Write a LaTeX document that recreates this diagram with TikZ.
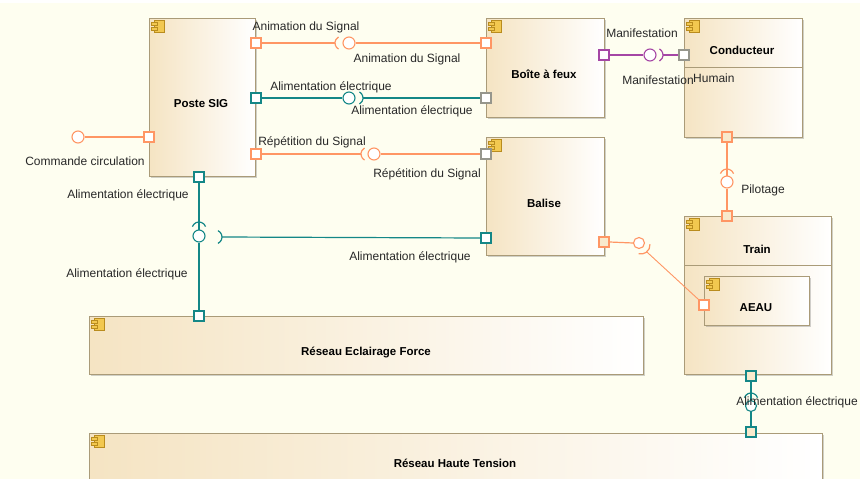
\documentclass[tikz,border=0pt]{standalone}
\usepackage{fontspec}
\setmainfont{Liberation Sans}
\usetikzlibrary{shadows}
\definecolor{bg}{RGB}{254,254,240}
\definecolor{org}{RGB}{255,150,100}
\definecolor{tealc}{RGB}{20,135,135}
\definecolor{purp}{RGB}{165,70,165}
\definecolor{boxb}{RGB}{170,155,120}
\definecolor{boxl}{RGB}{245,228,195}
\definecolor{pcream}{RGB}{248,234,205}
\definecolor{pgray}{RGB}{150,150,140}
\definecolor{icf}{RGB}{242,200,80}
\definecolor{ics}{RGB}{185,140,30}
\definecolor{lbl}{RGB}{40,40,40}
\tikzset{
  comp/.style={draw=boxb, line width=1.2pt, left color=boxl, right color=white,
    drop shadow={shadow xshift=1.2pt, shadow yshift=-1.2pt, opacity=0.3, fill=black!60},
    inner sep=0pt, anchor=north west},
  ttl/.style={font=\bfseries\fontsize{11.5}{13}\selectfont, text=black, inner sep=0pt},
  lab/.style={font=\fontsize{12}{14}\selectfont, text=lbl, inner sep=0pt},
  port/.style={draw=#1, fill=white, minimum size=10pt, inner sep=0pt, line width=1.2pt},
  cport/.style={port=#1, fill=pcream},
  ball/.style={draw=#1, fill=white, circle, minimum size=12pt, inner sep=0pt, line width=1.1pt},
  conn/.style={draw=#1, line width=1.2pt},
  cicon/.pic={
    \draw[fill=icf, draw=ics, line width=0.6pt] (5,2) rectangle (15,14);
    \draw[fill=icf, draw=ics, line width=0.6pt] (2,4) rectangle (8,7);
    \draw[fill=icf, draw=ics, line width=0.6pt] (2,9) rectangle (8,12);
  }
}
\begin{document}
\begin{tikzpicture}[x=1pt,y=-1pt]
\useasboundingbox (0,0) rectangle (860,479);
\clip (0,0) rectangle (860,479);
\fill[bg] (0,0) rectangle (860,479);
\fill[white] (0,0) rectangle (860,3);

% components
\node[comp, minimum width=106pt, minimum height=158pt] (poste) at (149,18) {};
\node[comp, minimum width=118pt, minimum height=99pt] (boite) at (486,18) {};
\node[comp, minimum width=118pt, minimum height=118pt] (balise) at (486,137) {};
\node[comp, minimum width=118pt, minimum height=119pt] (cond) at (684,18) {};
\node[comp, minimum width=147pt, minimum height=158pt] (train) at (684,216) {};
\node[comp, minimum width=105pt, minimum height=49pt] (aeau) at (704,276) {};
\node[comp, minimum width=554pt, minimum height=58pt] (ref) at (89,316) {};
\node[comp, minimum width=733pt, minimum height=70pt] (rht) at (89,433) {};

\draw[boxb, line width=1pt] (cond.west |- 0,67) -- (cond.east |- 0,67);
\draw[boxb, line width=1pt] (train.west |- 0,265) -- (train.east |- 0,265);

\foreach \n in {poste,boite,balise,cond,train,aeau,ref,rht} {
  \pic at (\n.north west) {cicon};
}

% titles
\node[ttl] (tposte) at (201,104) {Poste SIG};
\node[ttl] (tboite) at (544,74) {Boîte à feux};
\node[ttl] (tbalise) at (544,203) {Balise};
\node[ttl] (tcond) at (742,50) {Conducteur};
\node[ttl] (ttrain) at (757,249) {Train};
\node[ttl] (taeau) at (756,308) {AEAU};
\node[ttl] (tref) at (366,352) {Réseau Eclairage Force};
\node[ttl] (trht) at (455,463) {Réseau Haute Tension};
\node[lab, anchor=west] (humain) at (693,78) {Humain};

% socket centres
\coordinate (sA) at (342,43);
\coordinate (sB) at (356,98);
\coordinate (sC) at (368,154);
\coordinate (sM) at (656,55);
\coordinate (sP) at (727,176);
\coordinate (sV) at (199,229);
\coordinate (sW) at (215,237);
\coordinate (sT) at (751,400);
\coordinate (sL) at (641,245);

% ports (drawn after lines below via layering order: define first, lines end at borders)
\node[port=org] (pS1) at (256,43) {};
\node[port=tealc] (pS2) at (256,98) {};
\node[port=org] (pS3) at (256,154) {};
\node[port=org] (pS4) at (149,137) {};
\node[port=tealc] (pS5) at (199,177) {};
\node[port=org] (pB1) at (486,43) {};
\node[port=pgray] (pB2) at (486,98) {};
\node[port=purp] (pB3) at (604,55) {};
\node[port=pgray] (pL1) at (486,154) {};
\node[port=tealc] (pL2) at (486,238) {};
\node[cport=org] (pL3) at (604,242) {};
\node[port=pgray] (pC1) at (684,55) {};
\node[cport=org] (pC2) at (727,137) {};
\node[cport=org] (pT1) at (727,216) {};
\node[cport=tealc] (pT2) at (751,376) {};
\node[port=org] (pE1) at (704,305) {};
\node[port=tealc] (pR1) at (199,316) {};
\node[cport=tealc] (pH1) at (751,432) {};

% Animation du Signal
\draw[conn=org] (pS1.east) -- ([xshift=-7pt]sA);
\draw[conn=org] ([shift={(120:7)}]sA) arc (120:240:7);
\node[ball=org] (bA) at (349,43) {};
\draw[conn=org] (bA.east) -- (pB1.west);

% Alimentation electrique (Poste -> Boite)
\node[ball=tealc] (bB) at (349,98) {};
\draw[conn=tealc] (pS2.east) -- (bB.west);
\draw[conn=tealc] ([shift={(-60:7)}]sB) arc (-60:60:7);
\draw[conn=tealc] ([xshift=7pt]sB) -- (pB2.west);

% Repetition du Signal
\draw[conn=org] (pS3.east) -- ([xshift=-7pt]sC);
\draw[conn=org] ([shift={(120:7)}]sC) arc (120:240:7);
\node[ball=org] (bC) at (374,154) {};
\draw[conn=org] (bC.east) -- (pL1.west);

% Commande circulation
\node[ball=org] (bD) at (78,137) {};
\draw[conn=org] (bD.east) -- (pS4.west);

% Manifestation
\node[ball=purp] (bM) at (650,55) {};
\draw[conn=purp] (pB3.east) -- (bM.west);
\draw[conn=purp] ([shift={(-60:7)}]sM) arc (-60:60:7);
\draw[conn=purp] ([xshift=7pt]sM) -- (pC1.west);

% Pilotage
\draw[conn=org] (pC2.south) -- ([yshift=-7pt]sP);
\draw[conn=org] ([shift={(200:7)}]sP) arc (200:340:7);
\node[ball=org] (bP) at (727,182) {};
\draw[conn=org] (bP.south) -- (pT1.north);

% Poste SIG bottom / Reseau Eclairage / Balise
\draw[conn=tealc] (pS5.south) -- ([yshift=-7pt]sV);
\draw[conn=tealc] ([shift={(200:7)}]sV) arc (200:340:7);
\node[ball=tealc] (bV) at (199,236) {};
\draw[conn=tealc] (bV.south) -- (pR1.north);
\draw[conn=tealc] ([shift={(-65:7)}]sW) arc (-65:65:7);
\draw[conn=tealc] ([xshift=7pt]sW) -- (pL2.west);

% Balise -> AEAU
\node[ball=org, minimum size=11pt] (bL) at (639,243) {};
\draw[conn=org] (pL3.east) -- (bL.west);
\draw[conn=org] ([shift={(-5:9)}]sL) arc (-5:105:9);
\draw[conn=org, line width=0.9pt] ([shift={(50:9)}]sL) -- (pE1.north west);

% Train -> Reseau Haute Tension
\draw[conn=tealc] (pT2.south) -- ([yshift=-7pt]sT);
\draw[conn=tealc] ([shift={(200:7)}]sT) arc (200:340:7);
\node[ball=tealc, minimum size=11pt] (bT) at (751,406) {};
\draw[conn=tealc] (bT.south) -- (pH1.north);

% labels
\node[lab] (l1) at (306,27) {Animation du Signal};
\node[lab] (l2) at (407,59) {Animation du Signal};
\node[lab] (l3) at (331,87) {Alimentation électrique};
\node[lab] (l4) at (412,111) {Alimentation électrique};
\node[lab] (l5) at (312,142) {Répétition du Signal};
\node[lab] (l6) at (427,174) {Répétition du Signal};
\node[lab] (l7) at (85,161) {Commande circulation};
\node[lab] (l8) at (642,33) {Manifestation};
\node[lab] (l9) at (658,80) {Manifestation};
\node[lab] (l10) at (763,190) {Pilotage};
\node[lab] (l11) at (128,195) {Alimentation électrique};
\node[lab] (l12) at (127,274) {Alimentation électrique};
\node[lab] (l13) at (410,257) {Alimentation électrique};
\node[lab] (l14) at (797,402) {Alimentation électrique};
\end{tikzpicture}
\end{document}
